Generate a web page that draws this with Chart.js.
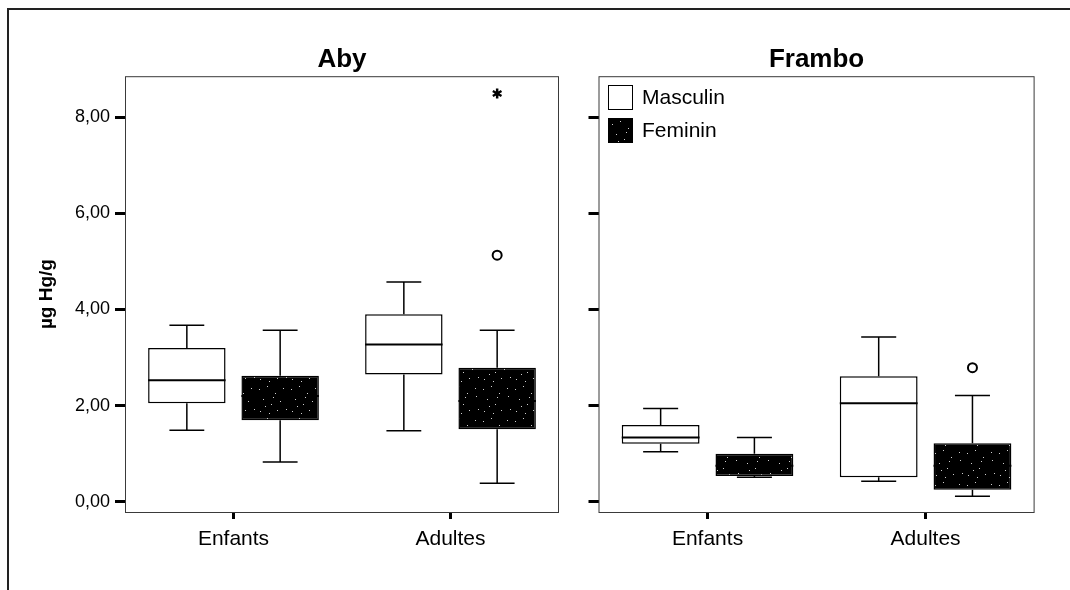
<!DOCTYPE html>
<html>
<head>
<meta charset="utf-8">
<script src="https://cdn.jsdelivr.net/npm/chart.js@4"></script>
<style>
  body { margin: 0; background: #fff; font-family: "Liberation Sans", Arial, sans-serif; }
  .panel { position: absolute; top: 0; height: 590px; }
  #frame { position: absolute; left: 7px; top: 8px; width: 1063px; height: 590px;
           border-top: 2px solid #222; border-left: 2px solid #222; }
  #legend { position: absolute; left: 608px; top: 84px; font-size: 21px; color: #000; }
  .leg-row { display: flex; align-items: center; height: 26px; margin-bottom: 7px; }
  .leg-box { width: 23px; height: 23px; border: 1.5px solid #000; margin-right: 9px; background: #fff; }
</style>
</head>
<body>
<div id="frame"></div>
<div class="panel" style="left:0;width:580px"><canvas id="chartAby"></canvas></div>
<div class="panel" style="left:580px;width:490px"><canvas id="chartFrambo"></canvas></div>
<div id="legend">
  <div class="leg-row"><span class="leg-box"></span><span>Masculin</span></div>
  <div class="leg-row"><span class="leg-box" id="legFem"></span><span>Feminin</span></div>
</div>
<script>
// categories / ticks
const categories = ['Enfants', 'Adultes'];
const seriesNames = ['Masculin', 'Feminin'];
const yTickValues = [0, 2, 4, 6, 8];

// Aby (µg Hg/g)
const abyMascMin = [1.49, 1.48];
const abyMascQ1  = [2.05, 2.65];
const abyMascMed = [2.53, 3.27];
const abyMascQ3  = [3.20, 3.90];
const abyMascMax = [3.67, 4.57];
const abyFemMin = [0.83, 0.39];
const abyFemQ1  = [1.70, 1.51];
const abyFemMed = [2.20, 2.10];
const abyFemQ3  = [2.62, 2.79];
const abyFemMax = [3.57, 3.57];
const abyFemOutliers = [null, 5.13];  // o
const abyFemExtremes = [null, 8.49];  // *

// Frambo
const framboMascMin = [1.04, 0.43];
const framboMascQ1  = [1.21, 0.51];
const framboMascMed = [1.34, 2.05];
const framboMascQ3  = [1.60, 2.61];
const framboMascMax = [1.94, 3.43];
const framboFemMin = [0.51, 0.12];
const framboFemQ1  = [0.54, 0.25];
const framboFemMed = [0.75, 0.75];
const framboFemQ3  = [1.00, 1.22];
const framboFemMax = [1.34, 2.21];
const framboFemOutliers = [null, 2.79];

Chart.defaults.font.family = '"Liberation Sans", Arial, sans-serif';
Chart.defaults.color = '#000';

// speckled black fill for the Feminin boxes
const speck = document.createElement('canvas');
speck.width = 32; speck.height = 32;
(function() {
    const c = speck.getContext('2d');
    c.fillStyle = '#000';
    c.fillRect(0, 0, 32, 32);
    c.fillStyle = '#cfcfcf';
    [[3,5],[11,2],[19,9],[27,4],[7,15],[15,20],[24,17],[30,25],[4,27],[13,29],[21,26],[9,22],[17,13],[28,12]]
        .forEach(p => c.fillRect(p[0], p[1], 1, 1));
})();
document.getElementById('legFem').style.background = '#000 url(' + speck.toDataURL() + ')';

const boxWhiskers = {
    id: 'boxWhiskers',
    beforeDatasetsDraw(chart) {
        const { ctx, chartArea: a } = chart;
        ctx.save();
        ctx.strokeStyle = '#3a3a3a';
        ctx.lineWidth = 1;
        ctx.strokeRect(a.left + 0.5, a.top + 0.5, a.right - a.left - 1, a.bottom - a.top);
        ctx.restore();
    },
    afterDatasetsDraw(chart, args, opts) {
        const { ctx } = chart;
        const y = chart.scales.y;
        ctx.save();
        ctx.strokeStyle = '#000';
        opts.series.forEach((s, di) => {
            const meta = chart.getDatasetMeta(di);
            meta.data.forEach((bar, i) => {
                const x = bar.x, w = bar.width, cap = w * 0.45;
                const pMin = y.getPixelForValue(s.min[i]);
                const pMax = y.getPixelForValue(s.max[i]);
                const pQ1 = y.getPixelForValue(s.q1[i]);
                const pQ3 = y.getPixelForValue(s.q3[i]);
                const pMed = y.getPixelForValue(s.med[i]);
                ctx.lineWidth = 1.5;
                ctx.beginPath();
                ctx.moveTo(x, pQ3); ctx.lineTo(x, pMax);
                ctx.moveTo(x, pQ1); ctx.lineTo(x, pMin);
                ctx.moveTo(x - cap / 2, pMax); ctx.lineTo(x + cap / 2, pMax);
                ctx.moveTo(x - cap / 2, pMin); ctx.lineTo(x + cap / 2, pMin);
                ctx.stroke();
                ctx.lineWidth = 2;
                ctx.beginPath();
                ctx.moveTo(x - w / 2, pMed); ctx.lineTo(x + w / 2, pMed);
                ctx.stroke();
                if (s.out && s.out[i] != null) {
                    ctx.lineWidth = 2;
                    ctx.beginPath();
                    ctx.arc(x, y.getPixelForValue(s.out[i]), 4.5, 0, Math.PI * 2);
                    ctx.stroke();
                }
                if (s.ext && s.ext[i] != null) {
                    const py = y.getPixelForValue(s.ext[i]);
                    ctx.lineWidth = 2.5;
                    ctx.beginPath();
                    for (let k = 0; k < 3; k++) {
                        const ang = Math.PI / 2 + k * Math.PI / 3;
                        ctx.moveTo(x + 5 * Math.cos(ang), py + 5 * Math.sin(ang));
                        ctx.lineTo(x - 5 * Math.cos(ang), py - 5 * Math.sin(ang));
                    }
                    ctx.stroke();
                }
            });
        });
        ctx.restore();
    }
};

function makePanel(id, title, series, showY, yWidth, padRight) {
    const ctx = document.getElementById(id).getContext('2d');
    const fill = ctx.createPattern(speck, 'repeat');
    return new Chart(ctx, {
        type: 'bar',
        data: {
            labels: categories,
            datasets: series.map((s, k) => ({
                label: seriesNames[k],
                data: s.q1.map((q, i) => [q, s.q3[i]]),
                backgroundColor: k === 0 ? '#fff' : fill,
                borderColor: '#000',
                borderWidth: 1.5,
                borderSkipped: false,
                barPercentage: 0.83,
                categoryPercentage: 0.86
            }))
        },
        options: {
            responsive: true, maintainAspectRatio: false, animation: false,
            layout: { padding: { left: 0, right: padRight, top: 44, bottom: 0 } },
            plugins: {
                legend: { display: false },
                tooltip: { enabled: false },
                title: {
                    display: true, text: title, fullSize: false, color: '#000',
                    font: { size: 26, weight: 'bold' }, padding: { top: 0, bottom: 1 }
                },
                boxWhiskers: { series: series }
            },
            scales: {
                x: {
                    afterFit: s => { s.height = 78; },
                    grid: { offset: false, drawOnChartArea: false, tickLength: 7, tickWidth: 3, tickColor: '#000' },
                    border: { display: false },
                    ticks: { padding: 8, color: '#000', font: { size: 21 } }
                },
                y: {
                    min: -0.21, max: 8.85,
                    afterBuildTicks: s => { s.ticks = yTickValues.map(v => ({ value: v })); },
                    afterFit: s => { s.width = yWidth; },
                    grid: { drawOnChartArea: false, tickLength: 10, tickWidth: 3, tickColor: '#000' },
                    border: { display: false },
                    ticks: {
                        display: showY, padding: 5, color: '#000', font: { size: 18 },
                        callback: v => v.toFixed(2).replace('.', ',')
                    },
                    title: {
                        display: showY, text: 'µg Hg/g', color: '#000',
                        font: { size: 19, weight: 'bold' }, padding: { top: 35, bottom: 0 }
                    }
                }
            }
        },
        plugins: [boxWhiskers]
    });
}

makePanel('chartAby', 'Aby', [
    { min: abyMascMin, q1: abyMascQ1, med: abyMascMed, q3: abyMascQ3, max: abyMascMax },
    { min: abyFemMin, q1: abyFemQ1, med: abyFemMed, q3: abyFemQ3, max: abyFemMax,
      out: abyFemOutliers, ext: abyFemExtremes }
], true, 125, 21);

makePanel('chartFrambo', 'Frambo', [
    { min: framboMascMin, q1: framboMascQ1, med: framboMascMed, q3: framboMascQ3, max: framboMascMax },
    { min: framboFemMin, q1: framboFemQ1, med: framboFemMed, q3: framboFemQ3, max: framboFemMax,
      out: framboFemOutliers }
], false, 18.5, 35.4);
</script>
</body>
</html>
